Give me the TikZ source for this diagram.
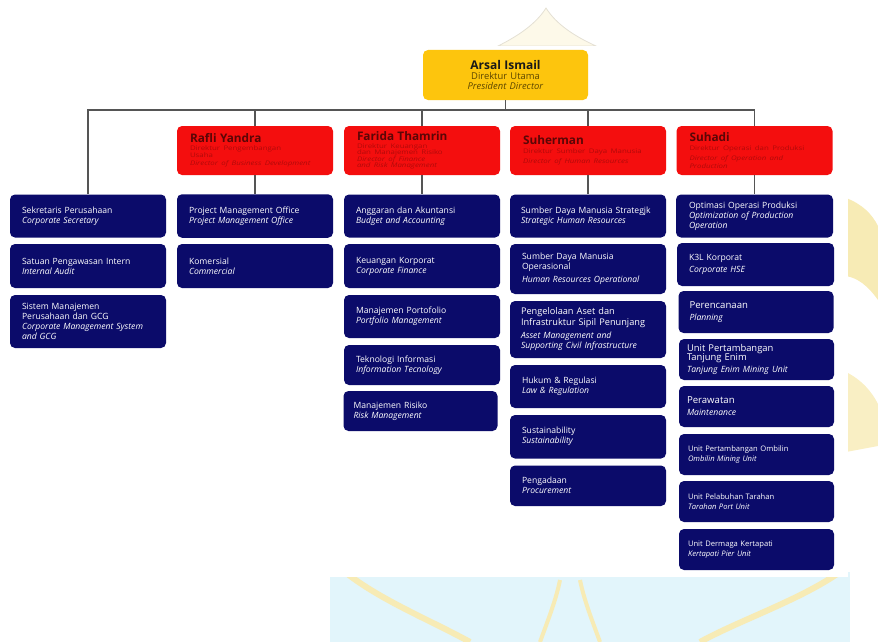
\documentclass[tikz,border=0pt]{standalone}
\usepackage{fontspec}
\setmainfont{Open Sans}
\newfontfamily\widesans[FakeStretch=1.25]{Open Sans}
\definecolor{navy}{HTML}{0B0B6A}
\definecolor{dirred}{HTML}{F40E0E}
\definecolor{dirname}{HTML}{5A0606}
\definecolor{dirsub}{HTML}{B00A0A}
\definecolor{gold}{HTML}{FDC50D}
\definecolor{goldtxt}{HTML}{5C4600}
\definecolor{wire}{HTML}{555555}
\definecolor{wmyel}{HTML}{F7EBB5}
\definecolor{wmcyan}{HTML}{E2F5FB}
\definecolor{wmgrey}{HTML}{E4E0D4}
\newcommand\unitfont{\fontsize{8.6}{10}\selectfont}
\newcommand\namefont{\fontsize{11.8}{13}\selectfont\bfseries}
\newcommand\subfont{\widesans\fontsize{6.3}{6.4}\selectfont}
\begin{document}
\begin{tikzpicture}[x=1pt,y=-1pt,
  link/.style={draw=wire, line width=1.1pt},
  unitbox/.style={fill=navy, rounded corners=5pt, text=white, align=left,
    inner xsep=12pt, inner ysep=2pt, text width=132pt, font=\unitfont},
  dirbox/.style={fill=dirred, rounded corners=5pt, align=left,
    inner xsep=13pt, inner ysep=1pt, text width=130pt, minimum height=49pt},
  topbox/.style={fill=gold, rounded corners=5pt, align=center,
    text width=161pt, minimum height=50pt, inner sep=2pt}]
\useasboundingbox (0,0) rectangle (878,642);

% faint emblem in the background
\fill[wmyel!30, draw=wmgrey, line width=0.8pt]
  (546,8) .. controls (536,24) and (518,36) .. (498,46)
  -- (596,46) .. controls (574,36) and (556,24) .. (546,8) -- cycle;
\fill[wmyel] (846,198) .. controls (862,204) and (872,214) .. (878,226)
  -- (878,300) .. controls (868,286) and (858,278) .. (846,276) -- cycle;
\fill[wmyel!80] (846,372) .. controls (862,380) and (872,392) .. (878,404)
  -- (878,446) -- (846,452) -- cycle;
\fill[wmcyan] (330,572) rectangle (850,642);
\draw[wmyel, line width=6pt]
  (345,572) .. controls (380,600) and (430,620) .. (470,642);
\draw[wmyel, line width=6pt]
  (840,572) .. controls (800,600) and (740,620) .. (700,642);
\draw[wmyel, line width=4pt]
  (560,580) .. controls (556,600) and (548,620) .. (540,642);
\draw[wmyel, line width=4pt]
  (580,580) .. controls (584,600) and (592,620) .. (600,642);
\fill[white] (0,46) rectangle (848,577);

% president
\node[topbox] (pres) at (505.5,75) {%
  {\fontsize{12}{12}\selectfont\bfseries\color{black!90}Arsal Ismail\par}
  {\fontsize{9.4}{9.8}\selectfont\color{goldtxt}Direktur Utama\par
   \textit{President Director}\par}};

% directors
\node[dirbox] (rafli) at (255,150.5) {%
  {\namefont\color{dirname}Rafli Yandra\par}\vspace{1.5pt}
  {\subfont\color{dirsub}Direktur Pengembangan\\Usaha\\[2pt]\textit{Director of Business Development}\par}};
\node[dirbox] (farida) at (422,150.5) {%
  {\namefont\color{dirname}Farida Thamrin\par}\vspace{1pt}
  {\subfont\color{dirsub}Direktur Keuangan\\dan Manajemen Risiko\\\textit{Director of Finance}\\\textit{and Risk Management}\par}};
\node[dirbox] (suherman) at (588,150.5) {%
  {\namefont\color{dirname}Suherman\par}\vspace{2pt}
  {\subfont\color{dirsub}Direktur Sumber Daya Manusia\\[4pt]\textit{Director of Human Resources}\par}};
\node[dirbox] (suhadi) at (754.5,150.5) {%
  {\namefont\color{dirname}Suhadi\par}\vspace{2pt}
  {\subfont\color{dirsub}Direktur Operasi dan Produksi\\[4pt]\textit{Director of Operation and}\\[1pt]\textit{Production}\par}};

% units reporting to the president
\node[unitbox, minimum height=43pt] (sek) at (88,216)
  {Sekretaris Perusahaan\\\textit{Corporate Secretary}};
\node[unitbox, minimum height=44pt] (spi) at (88,266)
  {Satuan Pengawasan Intern\\\textit{Internal Audit}};
\node[unitbox, minimum height=53pt] (smp) at (88,321.5)
  {Sistem Manajemen\\Perusahaan dan GCG\\\textit{Corporate Management System}\\\textit{and GCG}};

% business development
\node[unitbox, minimum height=43.5pt] (pmo) at (255,216)
  {Project Management Office\\\textit{Project Management Office}};
\node[unitbox, minimum height=44pt] (kom) at (255,266)
  {Komersial\\\textit{Commercial}};

% finance and risk
\node[unitbox, minimum height=43pt] (ang) at (422,216)
  {Anggaran dan Akuntansi\\\textit{Budget and Accounting}};
\node[unitbox, minimum height=44pt] (keu) at (422,266)
  {Keuangan Korporat\\\textit{Corporate Finance}};
\node[unitbox, minimum height=43pt] (port) at (422,316.5)
  {Manajemen Portofolio\\\textit{Portfolio Management}};
\node[unitbox, minimum height=40pt] (tek) at (422,365)
  {Teknologi Informasi\\\textit{Information Tecnology}};
\node[unitbox, minimum height=40pt, text width=134pt, inner xsep=10pt] (ris) at (420.5,411)
  {Manajemen Risiko\\\textit{Risk Management}};

% human resources
\node[unitbox, minimum height=43pt, inner xsep=11pt, text width=134pt] (sdms) at (588,216)
  {Sumber Daya Manusia Strategjk\\\textit{Strategic Human Resources}};
\node[unitbox, minimum height=50pt] (sdmo) at (588,269)
  {Sumber Daya Manusia\\Operasional\\[3pt]\textit{Human Resources Operational}};
\node[unitbox, minimum height=57pt, inner xsep=11pt, text width=134pt, font=\fontsize{9.2}{10.5}\selectfont] (aset) at (588,329.5)
  {Pengelolaan Aset dan\\Infrastruktur Sipil Penunjang\\[3pt]{\fontsize{8.6}{10}\selectfont\textit{Asset Management and}\\\textit{Supporting Civil Infrastructure}}};
\node[unitbox, minimum height=43pt] (huk) at (588,386.5)
  {Hukum \& Regulasi\\\textit{Law \& Regulation}};
\node[unitbox, minimum height=43.5pt] (sus) at (588,436.75)
  {Sustainability\\\textit{Sustainability}};
\node[unitbox, minimum height=40.5pt] (pgd) at (588,485.75)
  {Pengadaan\\\textit{Procurement}};

% operation and production
\node[unitbox, minimum height=43pt, inner xsep=13pt, text width=131pt] (opt) at (754.5,216)
  {Optimasi Operasi Produksi\\\textit{Optimization of Production}\\\textit{Operation}};
\node[unitbox, minimum height=43pt, inner xsep=12pt, text width=133pt] (k3l) at (755.5,264.5)
  {K3L Korporat\\[2pt]\textit{Corporate HSE}};
\node[unitbox, minimum height=42pt, inner xsep=11pt, text width=133pt, font=\fontsize{9.6}{12}\selectfont] (ren) at (756,312)
  {Perencanaan\\{\fontsize{8.6}{10}\selectfont\textit{Planning}}};
\node[unitbox, minimum height=41pt, inner xsep=8pt, text width=139pt, font=\fontsize{9.4}{9.4}\selectfont] (ute) at (756.5,359.5)
  {Unit Pertambangan\\Tanjung Enim\\[3pt]{\fontsize{8.6}{10}\selectfont\textit{Tanjung Enim Mining Unit}}};
\node[unitbox, minimum height=41pt, inner xsep=8pt, text width=139pt, font=\fontsize{9.6}{12}\selectfont] (raw) at (756.5,406.5)
  {Perawatan\\{\fontsize{8.6}{10}\selectfont\textit{Maintenance}}};
\node[unitbox, minimum height=41pt, inner xsep=9pt, text width=137pt, font=\fontsize{7.6}{10.5}\selectfont] (omb) at (756.5,454.5)
  {Unit Pertambangan Ombilin\\\textit{Ombilin Mining Unit}};
\node[unitbox, minimum height=41pt, inner xsep=9pt, text width=137pt, font=\fontsize{7.6}{10.5}\selectfont] (tar) at (756.5,501.5)
  {Unit Pelabuhan Tarahan\\\textit{Tarahan Port Unit}};
\node[unitbox, minimum height=41pt, inner xsep=9pt, text width=137pt, font=\fontsize{7.6}{10.5}\selectfont] (der) at (756.5,549.5)
  {Unit Dermaga Kertapati\\\textit{Kertapati Pier Unit}};

% reporting lines
\coordinate (bus) at (505.5,110);
\draw[link] (pres.south) -- (bus);
\draw[link] (bus) -| (sek.north);
\draw[link] (bus) -| (rafli.north);
\draw[link] (bus) -| (farida.north);
\draw[link] (bus) -| (suherman.north);
\draw[link] (bus) -| (suhadi.north);
\draw[link] (rafli.south) -- (pmo.north);
\draw[link] (farida.south) -- (ang.north);
\draw[link] (suherman.south) -- (sdms.north);
\draw[link] (suhadi.south) -- (opt.north);
\end{tikzpicture}
\end{document}
